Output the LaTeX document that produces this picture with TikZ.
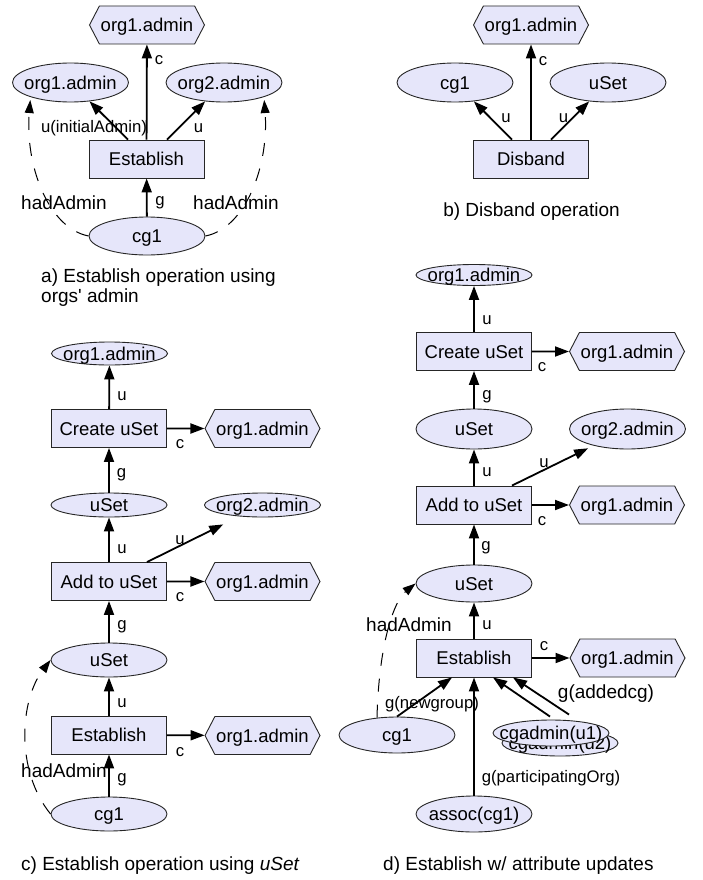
\documentclass[tikz,border=0pt]{standalone}
\usepackage{fontspec}
\setmainfont{Liberation Sans}
\usetikzlibrary{shapes.geometric,shapes.symbols,arrows.meta,calc}
\definecolor{lav}{RGB}{230,230,250}
\newcommand\nf{\fontsize{18.5pt}{21pt}\selectfont}
\newcommand\lf{\fontsize{16.7pt}{19pt}\selectfont}
\newcommand\hf{\fontsize{19pt}{22pt}\selectfont}
\begin{document}
\begin{tikzpicture}[x=1pt,y=-1pt,
 ell/.style={ellipse,draw=black!85,fill=lav,line width=0.9pt,inner xsep=-20pt,inner ysep=-5pt,
   text height=15.4pt,text depth=2pt,minimum width=116pt,font=\nf},
 opbox/.style={rectangle,draw=black!85,fill=lav,line width=0.9pt,inner sep=0pt,
   text height=15.4pt,text depth=2pt,minimum width=115pt,minimum height=38pt,font=\nf},
 hexa/.style={signal,signal to=east and west,signal pointer angle=125,draw=black!85,fill=lav,
   line width=0.9pt,inner sep=0pt,text height=15.4pt,text depth=2pt,minimum width=115pt,minimum height=38pt,font=\nf},
 arr/.style={line width=1.8pt,-{Triangle[length=14pt,width=10pt]}},
 hadarr/.style={line width=1pt,dash pattern=on 13pt off 13pt,-{Triangle[length=13pt,width=9pt]}},
 lbl/.style={font=\lf,inner sep=0pt},
 biglbl/.style={font=\hf,inner sep=0pt},
 captxt/.style={font=\hf,inner sep=0pt,anchor=west}]
\useasboundingbox[fill=white] (0,0) rectangle (702,880);

% ---------- panel a ----------
\node[hexa] (hxA) at (147,25) {org1.admin};
\node[ell,minimum height=39pt] (o1a) at (70.5,82.5) {org1.admin};
\node[ell,minimum height=39pt] (o2a) at (224,82.5) {org2.admin};
\node[opbox] (estA) at (146.5,159) {Establish};
\node[ell,minimum height=38pt] (cgA) at (147,236) {cg1};
\draw[arr] (estA) -- (hxA);
\draw[arr] ($(estA.north)+(-18.5,0)$) -- (o1a);
\draw[arr] ($(estA.north)+(20.5,0)$) -- (o2a);
\draw[arr] (cgA) -- (estA);
\draw[hadarr,shorten >=3pt] (cgA.west) .. controls (48,228) and (25,165) .. (o1a.200);
\draw[hadarr,shorten >=3pt] (cgA.east) .. controls (246,228) and (269,165) .. (o2a.340);
\node[lbl] (la1) at (159,60) {c};
\node[lbl] (la2) at (94,128) {u(initialAdmin)};
\node[lbl] (la3) at (198.5,128) {u};
\node[lbl] (la4) at (160,203) {g};
\node[biglbl] (la5) at (64,203) {hadAdmin};
\node[biglbl] (la6) at (236,203) {hadAdmin};
\node[captxt] (capa1) at (41,278) {a) Establish operation using};
\node[captxt] (capa2) at (41,298) {orgs\textquotesingle{} admin};

% ---------- panel b ----------
\node[hexa] (hxB) at (531,25) {org1.admin};
\node[ell,minimum height=39pt] (cgB) at (455,82.5) {cg1};
\node[ell,minimum height=39pt] (usB) at (608,82.5) {uSet};
\node[opbox] (disB) at (531,159) {Disband};
\draw[arr] (disB) -- (hxB);
\draw[arr] ($(disB.north)+(-19,0)$) -- (cgB);
\draw[arr] ($(disB.north)+(20,0)$) -- (usB);
\node[lbl] (lb1) at (543,61) {c};
\node[lbl] (lb2) at (506,118) {u};
\node[lbl] (lb3) at (563.5,118) {u};
\node[font=\hf,inner sep=0pt] (capb) at (531.5,212) {b) Disband operation};

% ---------- panel c ----------
\node[ell,minimum height=23pt] (o1c) at (109.5,353.5) {org1.admin};
\node[opbox] (crC) at (109,428.5) {Create uSet};
\node[hexa] (hx1c) at (262.5,428.5) {org1.admin};
\node[ell,minimum height=24pt] (us1c) at (109,505) {uSet};
\node[ell,minimum height=24pt] (o2c) at (262.5,505) {org2.admin};
\node[opbox] (addC) at (109,581.5) {Add to uSet};
\node[hexa] (hx2c) at (262.5,581.5) {org1.admin};
\node[ell,minimum height=34pt] (us2c) at (109,660) {uSet};
\node[opbox] (estC) at (109,735) {Establish};
\node[hexa] (hx3c) at (262.5,735.5) {org1.admin};
\node[ell,minimum height=34pt] (cgC) at (109,814) {cg1};
\draw[arr] (crC) -- (o1c);
\draw[arr] (crC) -- (hx1c);
\draw[arr] (us1c) -- (crC);
\draw[arr] (addC) -- (us1c);
\draw[arr,shorten >=18pt] ($(addC.north)+(38,0)$) -- (o2c);
\draw[arr] (addC) -- (hx2c);
\draw[arr] (us2c) -- (addC);
\draw[arr] (estC) -- (us2c);
\draw[arr] (estC) -- (hx3c);
\draw[arr] (cgC) -- (estC);
\draw[hadarr] (cgC.west) .. controls (15,770) and (20,700) .. (us2c.west);
\node[lbl] (lc1) at (122,396) {u};
\node[lbl] (lc2) at (180,444) {c};
\node[lbl] (lc3) at (121.5,475) {g};
\node[lbl] (lc4) at (122,549) {u};
\node[lbl] (lc5) at (180,540) {u};
\node[lbl] (lc6) at (180,597) {c};
\node[lbl] (lc7) at (122,627) {g};
\node[lbl] (lc8) at (122,703) {u};
\node[lbl] (lc9) at (180,752) {c};
\node[lbl] (lc10) at (122,780) {g};
\node[biglbl] (lc11) at (64,771) {hadAdmin};
\node[captxt] (capc) at (21,866) {c) Establish operation using \textit{uSet}};

% ---------- panel d ----------
\node[ell,minimum height=21pt] (o1d) at (474,275) {org1.admin};
\node[opbox] (crD) at (474,351.5) {Create uSet};
\node[hexa] (hx1d) at (627,351.5) {org1.admin};
\node[ell,minimum height=40pt] (usD1) at (474,429) {uSet};
\node[ell,minimum height=40pt] (o2d) at (627.5,429) {org2.admin};
\node[opbox] (addD) at (474,505) {Add to uSet};
\node[hexa] (hx2d) at (627,505) {org1.admin};
\node[ell,minimum height=37pt] (usD2) at (474,583.5) {uSet};
\node[opbox] (estD) at (474,658) {Establish};
\node[hexa] (hx3d) at (627.5,658) {org1.admin};
\node[ell,minimum height=36pt] (cg1d) at (397,735) {cg1};
\node[ell,minimum height=26pt] (u2) at (560,743) {cgadmin(u2)};
\node[ell,minimum height=26pt] (u1) at (551,733) {cgadmin(u1)};
\node[ell,minimum height=36pt] (asc) at (474,814) {assoc(cg1)};
\draw[arr] (crD) -- (o1d);
\draw[arr] (crD) -- (hx1d);
\draw[arr] (usD1) -- (crD);
\draw[arr] (addD) -- (usD1);
\draw[arr,shorten >=6pt] ($(addD.north)+(38,0)$) -- (o2d);
\draw[arr] (addD) -- (hx2d);
\draw[arr] (usD2) -- (addD);
\draw[arr] (estD) -- (usD2);
\draw[arr] (estD) -- (hx3d);
\draw[arr] (cg1d.north) -- ($(estD.south)+(-22,0)$);
\draw[arr] ($(u1.north)+(-1,-3)$) -- ($(estD.south)+(19,0)$);
\draw[arr] ($(u2.north)+(9,-15)$) -- ($(estD.south)+(39,0)$);
\draw[arr] (asc) -- (estD);
\draw[hadarr] ($(cg1d.north)+(-20,1)$) .. controls (379,640) and (395,600) .. (usD2.west);
\node[lbl] (ld1) at (487,320) {u};
\node[lbl] (ld2) at (542,367) {c};
\node[lbl] (ld3) at (487,397) {g};
\node[lbl] (ld4) at (487,472) {u};
\node[lbl] (ld5) at (544,463) {u};
\node[lbl] (ld6) at (542,521) {c};
\node[lbl] (ld7) at (486,548) {g};
\node[lbl] (ld8) at (487,625) {u};
\node[lbl] (ld9) at (544,646) {c};
\node[biglbl] (ld10) at (606,694) {g(addedcg)};
\node[lbl] (ld11) at (432,704) {g(newgroup)};
\node[lbl] (ld12) at (551,778) {g(participatingOrg)};
\node[biglbl] (ld13) at (409,625) {hadAdmin};
\node[captxt] (capd) at (383,866) {d) Establish w/ attribute updates};
\end{tikzpicture}
\end{document}
